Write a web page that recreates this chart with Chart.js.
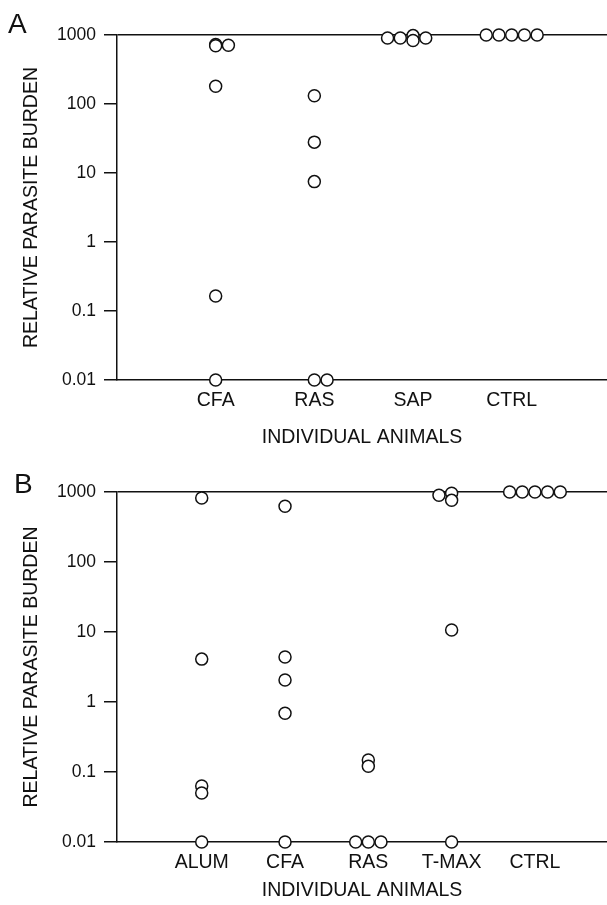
<!DOCTYPE html>
<html>
<head>
<meta charset="utf-8">
<script src="https://cdn.jsdelivr.net/npm/chart.js@4.4.0/dist/chart.umd.min.js"></script>
<style>
  body { margin: 0; background: #fff; width: 607px; height: 905px; position: relative; overflow: hidden;
         font-family: 'Liberation Sans', Arial, sans-serif; }
  .panel { position: absolute; left: 0; }
  .tag { position: absolute; font-size: 28px; color: #111; }
</style>
</head>
<body>
<div class="panel" style="top:0"><canvas id="chartA" width="607" height="460"></canvas></div>
<div class="panel" style="top:457px"><canvas id="chartB" width="607" height="448"></canvas></div>
<div class="tag" style="left:8px;top:8px">A</div>
<div class="tag" style="left:14px;top:468px">B</div>
<script>
Chart.defaults.font.family = "'Liberation Sans', Arial, sans-serif";
Chart.defaults.color = '#111';

const Y_TICKS = [0.01, 0.1, 1, 10, 100, 1000];
const Y_TICK_LABELS = ['0.01', '0.1', '1', '10', '100', '1000'];

// panel A - values per group, COL = which column of the dot cluster
const A_GROUPS = ['CFA', 'RAS', 'SAP', 'CTRL'];
const A_CFA = [730, 700, 710, 181, 0.165, 0.01];
const A_CFA_COL = [0, 0, 1, 0, 0, 0];
const A_RAS = [132, 28, 7.5, 0.01, 0.01];
const A_RAS_COL = [0, 0, 0, 0, 1];
const A_SAP = [905, 905, 980, 830, 905];
const A_SAP_COL = [-2, -1, 0, 0, 1];
const A_CTRL = [1000, 1000, 1000, 1000, 1000];
const A_CTRL_COL = [-2, -1, 0, 1, 2];

// panel B
const B_GROUPS = ['ALUM', 'CFA', 'RAS', 'T-MAX', 'CTRL'];
const B_ALUM = [820, 4.1, 0.063, 0.05, 0.01];
const B_ALUM_COL = [0, 0, 0, 0, 0];
const B_CFA = [624, 4.4, 2.06, 0.69, 0.01];
const B_CFA_COL = [0, 0, 0, 0, 0];
const B_RAS = [0.148, 0.121, 0.01, 0.01, 0.01];
const B_RAS_COL = [0, 0, -1, 0, 1];
const B_TMAX = [900, 960, 760, 10.7, 0.01];
const B_TMAX_COL = [-1, 0, 0, 0, 0];
const B_CTRL = [1000, 1000, 1000, 1000, 1000];
const B_CTRL_COL = [-2, -1, 0, 1, 2];

function groupPoints(groupIndex, values, cols, step) {
  return values.map((v, i) => ({ x: groupIndex + 1 + cols[i] * step, y: v }));
}

function makeChart(id, groups, points, cfg) {
  return new Chart(document.getElementById(id), {
    type: 'scatter',
    data: {
      datasets: [{
        data: points,
        showLine: false,
        pointRadius: 6,
        pointHoverRadius: 6,
        pointBackgroundColor: '#fff',
        pointBorderColor: '#111',
        pointBorderWidth: 1.5,
        clip: false
      }]
    },
    options: {
      responsive: false,
      animation: false,
      events: [],
      layout: { autoPadding: false, padding: { top: 35, left: 0, right: 0, bottom: 0 } },
      plugins: { legend: { display: false }, tooltip: { enabled: false } },
      scales: {
        x: {
          type: 'linear',
          min: cfg.xMin,
          max: cfg.xMax,
          afterBuildTicks: s => { s.ticks = groups.map((g, i) => ({ value: i + 1 })); },
          afterFit: s => { s.height = cfg.xHeight; },
          ticks: {
            callback: (v, i) => groups[i],
            font: { size: 19.5 },
            padding: 9,
            maxRotation: 0,
            autoSkip: false
          },
          grid: { display: false, drawTicks: false },
          border: { display: true, color: '#111', width: 1.5 },
          title: { display: true, text: 'INDIVIDUAL ANIMALS', font: { size: 19.5 }, padding: { top: 0, bottom: cfg.xTitlePad } }
        },
        y: {
          type: 'logarithmic',
          min: 0.01,
          max: 1000,
          afterBuildTicks: s => { s.ticks = Y_TICKS.map(v => ({ value: v })); },
          afterFit: s => { s.width = 117; },
          ticks: {
            callback: (v, i) => Y_TICK_LABELS[i],
            font: { size: 17.5 },
            padding: 8
          },
          grid: {
            color: c => (c.tick && c.tick.value === 1000) ? '#111' : 'rgba(0,0,0,0)',
            lineWidth: 1.5,
            tickColor: '#111',
            tickWidth: 1.5,
            tickLength: 13
          },
          border: { display: true, color: '#111', width: 1.5 },
          title: { display: true, text: 'RELATIVE PARASITE BURDEN', font: { size: 19.5 }, padding: { top: 20, bottom: 0 } }
        }
      }
    }
  });
}

const STEP_A = 0.129;
const pointsA = [].concat(
  groupPoints(0, A_CFA, A_CFA_COL, STEP_A),
  groupPoints(1, A_RAS, A_RAS_COL, STEP_A),
  groupPoints(2, A_SAP, A_SAP_COL, STEP_A),
  groupPoints(3, A_CTRL, A_CTRL_COL, STEP_A)
);
makeChart('chartA', A_GROUPS, pointsA, { xMin: 0, xMax: 4.966, xHeight: 80, xTitlePad: 11 });

const STEP_B = 0.152;
const pointsB = [].concat(
  groupPoints(0, B_ALUM, B_ALUM_COL, STEP_B),
  groupPoints(1, B_CFA, B_CFA_COL, STEP_B),
  groupPoints(2, B_RAS, B_RAS_COL, STEP_B),
  groupPoints(3, B_TMAX, B_TMAX_COL, STEP_B),
  groupPoints(4, B_CTRL, B_CTRL_COL, STEP_B)
);
makeChart('chartB', B_GROUPS, pointsB, { xMin: -0.017, xMax: 5.865, xHeight: 63, xTitlePad: 3 });
</script>
</body>
</html>
